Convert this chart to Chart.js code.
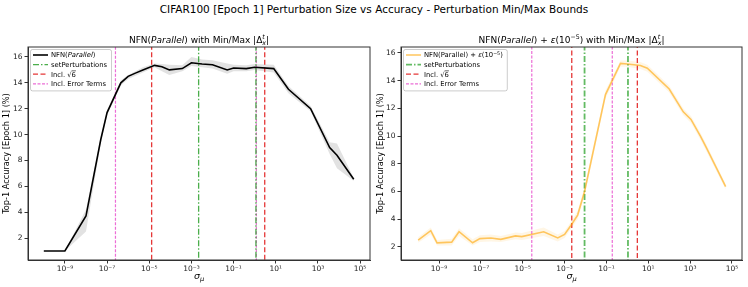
<!DOCTYPE html>
<html>
<head>
<meta charset="utf-8">
<script src="https://cdn.jsdelivr.net/npm/chart.js@4.4.1/dist/chart.umd.min.js"></script>
<style>
body { margin: 0; background: #fff; }
#wrap { position: relative; width: 748px; height: 287px; font-family: 'DejaVu Sans', sans-serif; }
#sup { position: absolute; left: 0; top: 3px; width: 748px; text-align: center; font-size: 10.5px; line-height: 13px; color: #000; }
canvas { position: absolute; top: 0; }
</style>
</head>
<body>
<div id="wrap">
  <div id="sup">CIFAR100 [Epoch 1] Perturbation Size vs Accuracy - Perturbation Min/Max Bounds</div>
  <canvas id="left" width="374" height="287" style="left:0"></canvas>
  <canvas id="right" width="374" height="287" style="left:374px"></canvas>
</div>
<script>
// tick positions
const xTicks = [1e-9, 1e-7, 1e-5, 1e-3, 1e-1, 1e1, 1e3, 1e5];
const yTicks = [2, 4, 6, 8, 10, 12, 14, 16];

// left panel: NFN(Parallel)
const sigmaA = [1e-10, 1e-9, 1e-8, 5e-8, 1e-7, 4.5e-7, 1e-6, 2.2e-6, 5e-6, 1.8e-5, 4e-5, 9e-5, 3.7e-4, 1e-3, 3.2e-3, 1e-2, 5e-2, 0.1, 0.4, 1, 8, 40, 450, 3600, 8000, 5e4];
const accA = [1.0, 1.0, 3.7, 9.6, 11.7, 14.0, 14.5, 14.75, 15.0, 15.35, 15.25, 15.0, 15.1, 15.55, 15.45, 15.4, 15.0, 15.15, 15.1, 15.2, 15.1, 13.5, 12.0, 9.0, 8.4, 6.55];
const accALow = [1.0, 1.0, 2.5, 9.3, 11.5, 13.8, 14.3, 14.55, 14.8, 15.2, 14.9, 14.6, 14.9, 15.3, 15.2, 15.1, 14.7, 14.9, 14.9, 15.0, 14.8, 13.2, 11.8, 8.5, 7.4, 6.4];
const accAHigh = [1.0, 1.0, 4.2, 9.8, 11.9, 14.2, 14.6, 14.9, 15.2, 15.5, 15.45, 15.4, 15.35, 16.0, 15.8, 15.75, 15.5, 15.4, 15.35, 15.45, 15.4, 13.75, 12.2, 9.4, 9.3, 6.65];
const errTermsA = [2.5e-7, 1.2];
const setPertA = [2.2e-3, 1.15];
const sqrt6A = [1.3e-5, 3];

// right panel: NFN(Parallel) + eps(1e-5)
const sigmaB = [1e-10, 4e-10, 8e-10, 4e-9, 9e-9, 4e-8, 9e-8, 3e-7, 9e-7, 4.5e-6, 9e-6, 1e-4, 4.7e-4, 1e-3, 2e-3, 4.2e-3, 9e-3, 9e-2, 0.47, 1, 4.2, 9, 100, 470, 1100, 3200, 5800, 5e4];
const accB = [2.5, 3.18, 2.3, 2.35, 3.1, 2.3, 2.6, 2.65, 2.55, 2.8, 2.75, 3.1, 2.65, 2.9, 3.55, 4.3, 6.0, 13.0, 15.25, 15.2, 15.1, 14.9, 13.4, 11.75, 11.2, 9.96, 9.2, 6.35];
const accBLow = [2.3, 2.9, 2.1, 2.1, 2.8, 2.1, 2.35, 2.4, 2.35, 2.55, 2.5, 2.8, 2.4, 2.65, 3.3, 4.0, 5.7, 12.7, 15.0, 15.0, 14.85, 14.65, 13.15, 11.5, 10.95, 9.7, 8.95, 6.15];
const accBHigh = [2.7, 3.4, 2.5, 2.6, 3.35, 2.55, 2.85, 2.9, 2.8, 3.05, 3.0, 3.4, 2.9, 3.15, 3.8, 4.6, 6.3, 13.3, 15.45, 15.45, 15.35, 15.15, 13.65, 12.0, 11.45, 10.2, 9.45, 6.55];
const errTermsB = [2.7e-5, 0.19];
const setPertB = [9e-3, 1.07];
const sqrt6B = [2.2e-3, 3];

const FONT = "'DejaVu Sans', sans-serif";
const SUP = { '-': '⁻', '0': '⁰', '1': '¹', '2': '²', '3': '³', '4': '⁴', '5': '⁵', '6': '⁶', '7': '⁷', '8': '⁸', '9': '⁹' };

const GREEN = { color: 'rgba(44,160,44,0.85)', dash: [6, 2, 1.5, 2], width: 1.3 };
const RED = { color: 'rgba(225,20,20,0.85)', dash: [5, 2.5], width: 1.3 };
const PINK = { color: 'rgb(236,110,214)', dash: [3, 1.5], width: 1.2 };

function logLabel(v) {
    const e = String(Math.round(Math.log10(v)));
    return '10' + e.split('').map(c => SUP[c]).join('');
}

function pts(xs, ys) {
    return xs.map((x, i) => ({ x: x, y: ys[i] }));
}

function vline(x, st) {
    return {
        data: [{ x: x, y: -100 }, { x: x, y: 100 }],
        borderColor: st.color, borderDash: st.dash, borderWidth: st.width,
        pointRadius: 0, fill: false
    };
}

// rich text: strings, {t, i, over} or {sup, sub, i}
function measureRuns(ctx, segs, size) {
    return segs.map(s => {
        const r = typeof s === 'string' ? { t: s } : Object.assign({}, s);
        if (r.sup !== undefined || r.sub !== undefined) {
            ctx.font = (r.i ? 'italic ' : '') + (size * 0.7) + 'px ' + FONT;
            r.w = Math.max(ctx.measureText(r.sup || '').width, ctx.measureText(r.sub || '').width);
        } else {
            ctx.font = (r.i ? 'italic ' : '') + size + 'px ' + FONT;
            r.w = ctx.measureText(r.t).width;
        }
        return r;
    });
}

function drawRich(ctx, segs, x, y, size, align) {
    const rs = measureRuns(ctx, segs, size);
    const total = rs.reduce((a, r) => a + r.w, 0);
    let cx = align === 'center' ? x - total / 2 : x;
    ctx.textAlign = 'left';
    ctx.textBaseline = 'alphabetic';
    ctx.fillStyle = '#000';
    rs.forEach(r => {
        if (r.sup !== undefined || r.sub !== undefined) {
            ctx.font = (r.i ? 'italic ' : '') + (size * 0.7) + 'px ' + FONT;
            if (r.sup) ctx.fillText(r.sup, cx, y - size * 0.42);
            if (r.sub) ctx.fillText(r.sub, cx, y + size * 0.25);
        } else {
            ctx.font = (r.i ? 'italic ' : '') + size + 'px ' + FONT;
            ctx.fillText(r.t, cx, y);
            if (r.over) {
                ctx.save();
                ctx.strokeStyle = '#000';
                ctx.lineWidth = 0.6;
                ctx.beginPath();
                ctx.moveTo(cx, y - size * 0.85);
                ctx.lineTo(cx + r.w, y - size * 0.85);
                ctx.stroke();
                ctx.restore();
            }
        }
        cx += r.w;
    });
    return total;
}

const decor = {
    id: 'decor',
    afterDraw(chart, args, opts) {
        const ctx = chart.ctx;
        const a = chart.chartArea;
        ctx.save();
        // frame
        ctx.strokeStyle = '#333';
        ctx.lineWidth = 1;
        ctx.strokeRect(a.left, a.top, a.right - a.left, a.bottom - a.top);
        // title
        drawRich(ctx, opts.title, (a.left + a.right) / 2, 42.5, 9, 'center');
        // x label
        drawRich(ctx, [{ t: 'σ', i: true }, { sub: 'μ', i: true }], (a.left + a.right) / 2, 279, 9.5, 'center');
        // legend
        const fs = 6.8, step = 9.6;
        const bx = a.left + 2, by = a.top + 2;
        const widths = opts.legend.map(it => measureRuns(ctx, it.segs, fs).reduce((s, r) => s + r.w, 0));
        const bw = 21 + Math.max.apply(null, widths) + 4;
        const bh = opts.legend.length * step + 3;
        ctx.fillStyle = 'rgba(255,255,255,0.85)';
        ctx.strokeStyle = 'rgba(0,0,0,0.2)';
        ctx.lineWidth = 1;
        ctx.beginPath();
        ctx.roundRect(bx + 0.5, by + 0.5, bw, bh, 2);
        ctx.fill();
        ctx.stroke();
        opts.legend.forEach((it, i) => {
            const cy = by + 6 + i * step;
            ctx.strokeStyle = it.color;
            ctx.lineWidth = it.width;
            ctx.setLineDash(it.dash || []);
            ctx.beginPath();
            ctx.moveTo(bx + 3, cy);
            ctx.lineTo(bx + 18, cy);
            ctx.stroke();
            ctx.setLineDash([]);
            drawRich(ctx, it.segs, bx + 21, cy + 2.4, fs, 'left');
        });
        ctx.restore();
    }
};

function makeChart(id, cfg) {
    const datasets = [
        { data: pts(cfg.sigma, cfg.acc), borderColor: cfg.color, borderWidth: 1.6, pointRadius: 0, fill: false },
        vline(cfg.setPert[0], cfg.green), vline(cfg.setPert[1], cfg.green),
        vline(cfg.sqrt6[0], RED), vline(cfg.sqrt6[1], RED),
        vline(cfg.err[0], PINK), vline(cfg.err[1], PINK),
        { data: pts(cfg.sigma, cfg.high), borderWidth: 0, borderColor: 'rgba(0,0,0,0)', backgroundColor: cfg.band, pointRadius: 0, fill: '+1' },
        { data: pts(cfg.sigma, cfg.low), borderWidth: 0, borderColor: 'rgba(0,0,0,0)', pointRadius: 0, fill: false }
    ];
    return new Chart(document.getElementById(id), {
        type: 'line',
        data: { datasets: datasets },
        plugins: [decor],
        options: {
            responsive: false,
            animation: false,
            devicePixelRatio: 1,
            layout: { padding: { top: 47, right: cfg.padRight, bottom: 0, left: 0 } },
            plugins: {
                legend: { display: false },
                tooltip: { enabled: false },
                decor: { title: cfg.title, legend: cfg.legend }
            },
            scales: {
                x: {
                    type: 'logarithmic',
                    min: cfg.xMin, max: cfg.xMax,
                    afterBuildTicks: s => { s.ticks = xTicks.map(v => ({ value: v })); },
                    afterFit: s => { s.height = 27; },
                    grid: { drawOnChartArea: false, drawTicks: true, tickLength: 3.5, color: '#333' },
                    border: { display: true, color: '#333' },
                    ticks: { font: { family: FONT, size: 7.5 }, color: '#222', padding: 1, maxRotation: 0, autoSkip: false, callback: v => logLabel(v) }
                },
                y: {
                    type: 'linear',
                    min: cfg.yMin, max: cfg.yMax,
                    afterBuildTicks: s => { s.ticks = yTicks.map(v => ({ value: v })); },
                    afterFit: s => { s.width = cfg.yWidth; },
                    grid: { drawOnChartArea: false, drawTicks: true, tickLength: 3.5, color: '#333' },
                    border: { display: true, color: '#333' },
                    ticks: { font: { family: FONT, size: 7.5 }, color: '#222', padding: 2 },
                    title: { display: true, text: 'Top-1 Accuracy [Epoch 1] (%)', font: { family: FONT, size: 8.2 }, color: '#000', padding: { top: 2, bottom: 0 } }
                }
            }
        }
    });
}

makeChart('left', {
    sigma: sigmaA, acc: accA, low: accALow, high: accAHigh,
    setPert: setPertA, sqrt6: sqrt6A, err: errTermsA,
    color: '#000', band: 'rgba(160,160,160,0.3)', green: GREEN,
    xMin: Math.pow(10, -10.75), xMax: Math.pow(10, 5.47), yMin: 0.3, yMax: 16.77,
    yWidth: 28, padRight: 4,
    title: ['NFN(', { t: 'Parallel', i: true }, ') with Min/Max |Δ', { sup: 't', sub: 'x', i: true }, '|'],
    legend: [
        { segs: ['NFN(', { t: 'Parallel', i: true }, ')'], color: '#000', width: 1.6 },
        { segs: ['setPerturbations'], color: GREEN.color, dash: GREEN.dash, width: GREEN.width },
        { segs: ['Incl. ', '√', { t: '6', over: true }], color: RED.color, dash: RED.dash, width: RED.width },
        { segs: ['Incl. Error Terms'], color: PINK.color, dash: PINK.dash, width: PINK.width }
    ]
});

const GREEN_B = { color: 'rgba(60,170,60,0.8)', dash: [6, 2, 1.5, 2], width: 1.8 };
makeChart('right', {
    sigma: sigmaB, acc: accB, low: accBLow, high: accBHigh,
    setPert: setPertB, sqrt6: sqrt6B, err: errTermsB,
    color: 'rgba(255,165,0,0.6)', band: 'rgba(255,165,0,0.1)', green: GREEN_B,
    xMin: Math.pow(10, -10.82), xMax: Math.pow(10, 5.48), yMin: 1.06, yMax: 16.43,
    yWidth: 27, padRight: 6,
    title: ['NFN(', { t: 'Parallel', i: true }, ') + ', { t: 'ε', i: true }, '(10', { sup: '−5' }, ') with Min/Max |Δ', { sup: 't', sub: 'x', i: true }, '|'],
    legend: [
        { segs: ['NFN(Parallel) + ', { t: 'ε', i: true }, '(10', { sup: '−5' }, ')'], color: 'rgba(255,165,0,0.6)', width: 1.6 },
        { segs: ['setPerturbations'], color: GREEN_B.color, dash: GREEN_B.dash, width: GREEN_B.width },
        { segs: ['Incl. ', '√', { t: '6', over: true }], color: RED.color, dash: RED.dash, width: RED.width },
        { segs: ['Incl. Error Terms'], color: PINK.color, dash: PINK.dash, width: PINK.width }
    ]
});
</script>
</body>
</html>
